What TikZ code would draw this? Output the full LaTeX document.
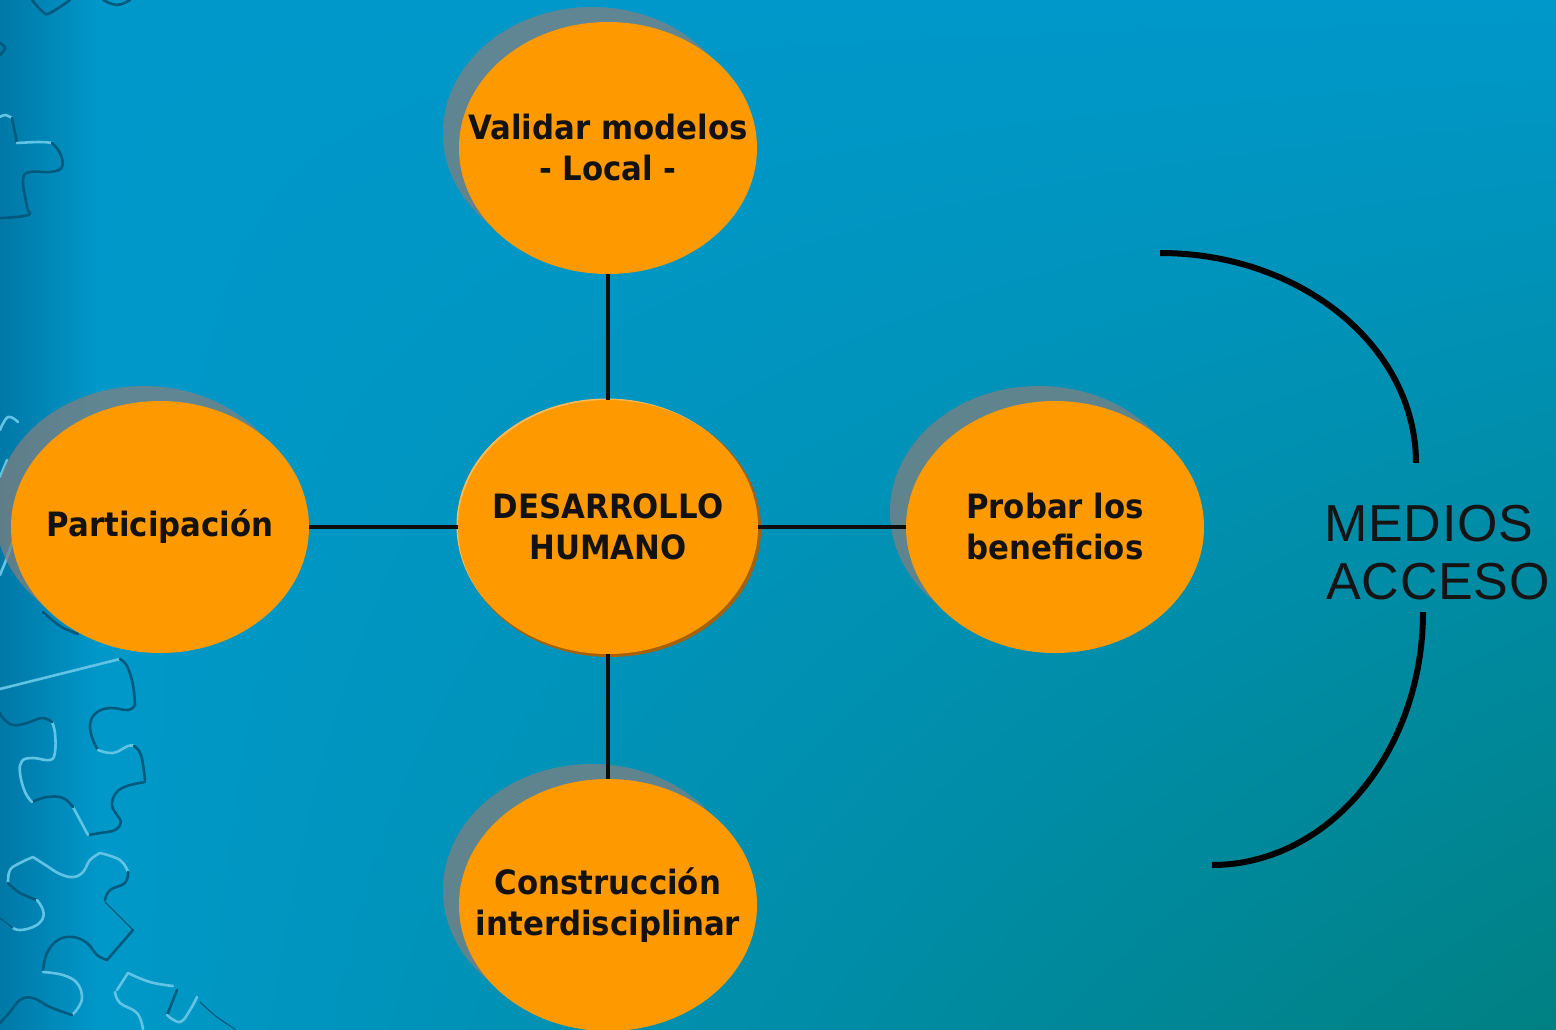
\documentclass[tikz,border=0pt]{standalone}
\usepackage{fontspec}
\setmainfont{Liberation Sans}
\newfontfamily\nodefont{DejaVu Sans}[FakeStretch=0.92]
\newfontfamily\sidefont{Liberation Sans}[LetterSpace=1.5]
\usetikzlibrary{shapes.geometric,shadings}
\definecolor{bgtop}{RGB}{0,152,202}
\definecolor{bgblue}{RGB}{0,154,205}
\definecolor{bgteal}{RGB}{0,128,130}
\definecolor{stripdark}{RGB}{0,120,166}
\definecolor{nodeorange}{RGB}{255,153,0}
\definecolor{rimdark}{RGB}{165,98,10}
\definecolor{rimlight}{RGB}{255,184,88}
\definecolor{shadowgrey}{RGB}{128,128,128}
\definecolor{pzl}{RGB}{98,196,228}
\definecolor{pzd}{RGB}{0,90,126}
\tikzset{
  bubble/.style={ellipse, fill=nodeorange, minimum width=298pt, minimum height=252pt,
    inner xsep=-45pt, inner ysep=0pt, align=center, text=black!93,
    font=\nodefont\bfseries\fontsize{33.5}{41}\selectfont},
  link/.style={line width=4.5pt, draw=black!95},
  bracket/.style={line width=6pt, draw=black},
  sidetext/.style={anchor=base west, inner sep=0pt, text=black!92,
    font=\sidefont\fontsize{52}{58}\selectfont},
  pzlight/.style={draw=pzl, line width=2.6pt, line cap=round, line join=round},
  pzdark/.style={draw=pzd, line width=2.6pt, line cap=round, line join=round},
  pzthin/.style={draw=pzd, line width=1.2pt, line cap=round},
  shadowfill/.style={fill=shadowgrey, opacity=0.75},
}
\begin{document}
\begin{tikzpicture}[x=1pt, y=-1pt]
\useasboundingbox (0,0) rectangle (1556,1029);
\clip (0,0) rectangle (1556,1029);
% background
\shade[upper left=bgtop, upper right=bgtop, lower left=bgblue, lower right=bgteal]
  (0,0) rectangle (1556,1029);
\shade[left color=stripdark, right color=bgtop] (0,0) rectangle (100,1029);
% puzzle pieces (top left)
\draw[pzdark] plot[smooth, tension=0.7] coordinates {(32,0) (43,12) (50,13) (70,0)};
\draw[pzdark] plot[smooth, tension=0.7] coordinates {(103,0) (117,5) (130,0)};
\draw[pzdark] plot[smooth, tension=0.7] coordinates {(0,43) (5,48) (0,55)};
\draw[pzlight] plot[smooth, tension=0.7] coordinates {(0,117) (5,115) (12,118)};
\draw[pzdark] plot[smooth, tension=0.7] coordinates {(12,118) (15,133) (17,143)};
\draw[pzlight] plot[smooth, tension=0.7] coordinates {(17,143) (40,142) (52,143)};
\draw[pzdark] plot[smooth, tension=0.7] coordinates {(52,143) (60,153) (62,167) (50,172) (30,172) (23,180) (27,207) (28,215) (0,218)};
% fragments near left bubble
\draw[pzlight] plot[smooth, tension=0.7] coordinates {(0,430) (8,417) (18,422)};
\draw[pzlight] plot[smooth, tension=0.7] coordinates {(0,477) (7,460)};
\draw[pzlight] plot[smooth, tension=0.7] coordinates {(0,575) (8,555) (13,540)};
\draw[pzdark] plot[smooth, tension=0.7] coordinates {(43,612) (60,626) (78,634)};
% piece A
\draw[pzlight] (0,689) -- (120,659);
\draw[pzdark] plot[smooth, tension=0.7] coordinates {(120,659) (127,666) (133,685) (135,705)};
\draw[pzdark] plot[smooth, tension=0.7] coordinates {(135,705) (128,710) (110,708) (96,713) (90,725) (93,740) (98,750)};
\draw[pzlight] plot[smooth, tension=0.7] coordinates {(98,750) (113,753) (128,746) (134,746)};
\draw[pzdark] plot[smooth, tension=0.7] coordinates {(134,746) (141,755) (145,780)};
\draw[pzdark] plot[smooth, tension=0.7] coordinates {(145,782) (127,786) (116,793) (112,805) (117,815) (121,822) (115,830) (100,833) (88,835)};
\draw[pzlight] plot[smooth, tension=0.7] coordinates {(88,835) (80,820) (73,807)};
\draw[pzdark] plot[smooth, tension=0.7] coordinates {(73,807) (63,798) (47,797) (32,802)};
\draw[pzlight] plot[smooth, tension=0.7] coordinates {(32,802) (25,792) (20,773) (22,761) (33,758) (50,760) (55,752) (55,733) (52,722)};
\draw[pzdark] plot[smooth, tension=0.7] coordinates {(52,722) (42,718) (27,723) (13,725) (3,718) (0,713)};
% piece B
\draw[pzlight] plot[smooth, tension=0.7] coordinates {(8,883) (10,870) (20,863) (33,857)};
\draw[pzlight] plot[smooth, tension=0.7] coordinates {(33,857) (47,866) (60,874) (73,877) (83,872) (90,860) (100,853)};
\draw[pzlight] plot[smooth, tension=0.7] coordinates {(100,853) (120,860) (128,872)};
\draw[pzdark] plot[smooth, tension=0.7] coordinates {(128,872) (125,883) (110,890) (105,900)};
\draw[pzthin] (105,902) -- (133,930);
\draw[pzdark] (133,930) -- (107,960);
\draw[pzdark] plot[smooth, tension=0.7] coordinates {(107,960) (97,955) (87,943) (73,937) (58,940) (47,953) (43,970)};
\draw[pzlight] plot[smooth, tension=0.7] coordinates {(43,972) (63,975) (77,983) (82,997) (78,1008) (72,1015)};
\draw[pzdark] plot[smooth, tension=0.7] coordinates {(72,1015) (50,1007) (33,998) (20,1000) (10,1012) (0,1023)};
\draw[pzdark] plot[smooth, tension=0.7] coordinates {(8,883) (20,893) (37,900)};
\draw[pzlight] plot[smooth, tension=0.7] coordinates {(37,900) (43,910) (42,920) (33,927) (20,930) (13,928)};
\draw[pzthin] (13,928) -- (0,918);
% piece C
\draw[pzlight] (117,990) -- (128,973);
\draw[pzlight] plot[smooth, tension=0.7] coordinates {(128,973) (150,982) (173,986)};
\draw[pzlight] plot[smooth, tension=0.7] coordinates {(115,992) (120,1003) (137,1013) (143,1029)};
\draw[pzdark] (177,990) -- (167,1015);
\draw[pzlight] plot[smooth, tension=0.7] coordinates {(167,1015) (180,1022) (190,1010) (197,997)};
\draw[pzthin] plot[smooth, tension=0.7] coordinates {(200,1002) (217,1017) (235,1029)};
% shadows
\fill[shadowfill] (592,133) ellipse [x radius=149, y radius=126];
\fill[shadowfill] (144,512) ellipse [x radius=149, y radius=126];
\fill[shadowfill] (1039,512) ellipse [x radius=149, y radius=126];
\fill[shadowfill] (592,890) ellipse [x radius=149, y radius=126];
% rim of the central bubble
\fill[rimdark] (610,529) ellipse [x radius=151, y radius=128];
\fill[rimlight] (606.5,525.5) ellipse [x radius=150, y radius=127];
% bubbles
\node[bubble, minimum width=300pt, minimum height=254pt] (center) at (608,527) {DESARROLLO\\HUMANO};
\node[bubble] (top) at (608,148) {Validar modelos\\- Local -};
\node[bubble] (left) at (160,527) {Participación};
\node[bubble] (right) at (1055,527) {Probar los\\beneficios};
\node[bubble] (bottom) at (608,905) {Construcción\\interdisciplinar};
% connectors
\draw[link] (center) -- (top);
\draw[link] (center) -- (bottom);
\draw[link] (center) -- (left);
\draw[link] (center) -- (right);
% bracket and side text
\coordinate (arcA) at (1160,253);
\coordinate (arcB) at (1423,612);
\draw[bracket] (arcA) arc[start angle=-90, end angle=0, x radius=256, y radius=210];
\draw[bracket] (arcB) arc[start angle=0, end angle=90, x radius=211, y radius=253];
\node[sidetext] (medios) at (1324,541) {MEDIOS};
\node[sidetext] (acceso) at (1326,599) {ACCESO};
\end{tikzpicture}
\end{document}
